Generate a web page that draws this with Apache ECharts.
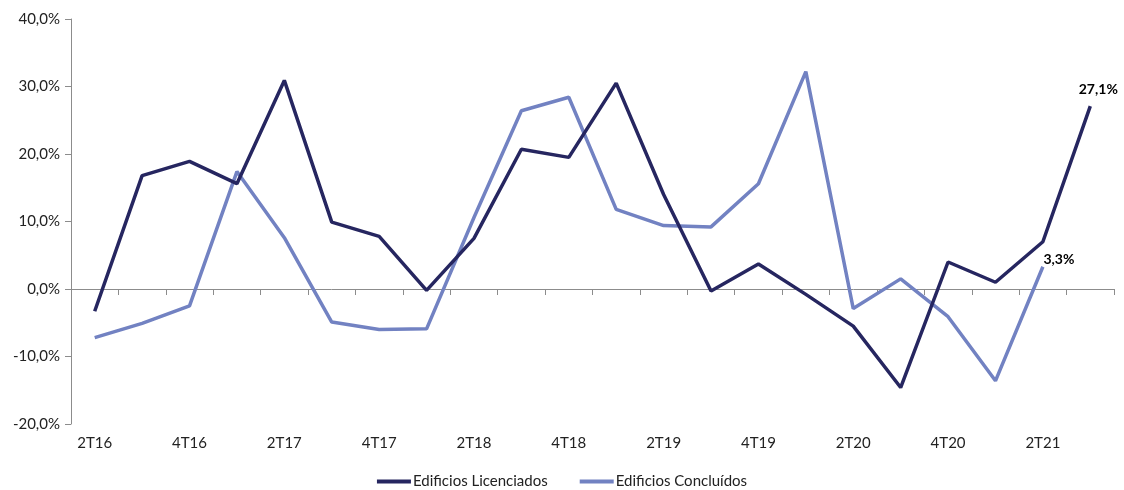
<!DOCTYPE html>
<html>
<head>
<meta charset="utf-8">
<script src="https://cdn.jsdelivr.net/npm/echarts@6/dist/echarts.min.js"></script>
<style>
  html, body { margin: 0; padding: 0; background: #ffffff; }
  #chart { width: 1124px; height: 490px; }
</style>
</head>
<body>
<div id="chart"></div>
<script>
// Quarterly year-on-year change (%) of residential buildings
const quarters = ['2T16','3T16','4T16','1T17','2T17','3T17','4T17','1T18','2T18','3T18','4T18',
                  '1T19','2T19','3T19','4T19','1T20','2T20','3T20','4T20','1T21','2T21','3T21'];
const licenciados = [-3.3, 16.8, 18.9, 15.6, 30.9, 9.9, 7.8, -0.2, 7.5, 20.7, 19.5,
                     30.5, 14.0, -0.3, 3.7, -0.8, -5.5, -14.6, 4.0, 1.0, 7.0, 27.1];
const concluidos = [-7.2, -5.1, -2.5, 17.4, 7.6, -4.9, -6.0, -5.9, 10.6, 26.4, 28.4,
                    11.8, 9.4, 9.2, 15.6, 32.2, -2.9, 1.5, -4.1, -13.6, 3.3, null];
const yTicks = { min: -20, max: 40, step: 10 };

const DARK = '#262660';
const LIGHT = '#7282c2';
const AXIS = '#8c8c8c';
const FONT = 'Lato, "Open Sans", sans-serif';

const fmtPct = v => v.toFixed(1).replace('.', ',') + '%';

// Mark the latest value of each series with a bold label
function withLastLabel(values, offset) {
  let last = -1;
  values.forEach((v, i) => { if (v !== null) last = i; });
  return values.map((v, i) => {
    if (i !== last) return v;
    return {
      value: v,
      label: {
        show: true, position: 'top', offset: offset,
        formatter: p => fmtPct(p.value),
        fontFamily: FONT, fontSize: 14, fontWeight: 'bold', color: '#000'
      }
    };
  });
}

const chart = echarts.init(document.getElementById('chart'), null, { renderer: 'canvas' });
chart.setOption({
  animation: false,
  grid: { left: 71, right: 10, top: 19, bottom: 66 },
  legend: {
    bottom: -4, left: 'center', itemWidth: 34, itemHeight: 4, itemGap: 32,
    icon: 'rect',
    textStyle: { fontFamily: FONT, fontSize: 15, color: '#222', padding: [0, 0, 0, -3] },
    data: ['Edificios Licenciados', 'Edificios Concluídos']
  },
  xAxis: [
    {
      // zero line with tick marks between quarters
      type: 'category', data: quarters, boundaryGap: true,
      axisLine: { onZero: true, lineStyle: { color: AXIS, width: 1 } },
      axisTick: { show: true, length: 6, interval: 0, lineStyle: { color: AXIS } },
      axisLabel: { show: false }
    },
    {
      // quarter labels along the bottom of the plot
      type: 'category', data: quarters, boundaryGap: true, position: 'bottom',
      axisLine: { show: false, onZero: false }, axisTick: { show: false },
      axisLabel: { interval: 1, margin: 12, fontFamily: FONT, fontSize: 15, color: '#222' }
    }
  ],
  yAxis: {
    type: 'value', min: yTicks.min, max: yTicks.max, interval: yTicks.step,
    splitLine: { show: false },
    axisLine: { show: true, lineStyle: { color: AXIS } },
    axisTick: { show: true, length: 6, lineStyle: { color: AXIS } },
    axisLabel: { formatter: v => fmtPct(v), margin: 11, fontFamily: FONT, fontSize: 15, color: '#222' }
  },
  series: [
    {
      name: 'Edificios Licenciados', type: 'line', xAxisIndex: 0,
      data: withLastLabel(licenciados, [8, -5]),
      symbol: 'circle', symbolSize: 0, showSymbol: true,
      lineStyle: { color: DARK, width: 3.5 }, itemStyle: { color: DARK },
      z: 3
    },
    {
      name: 'Edificios Concluídos', type: 'line', xAxisIndex: 0,
      data: withLastLabel(concluidos, [16, 5]),
      symbol: 'circle', symbolSize: 0, showSymbol: true,
      lineStyle: { color: LIGHT, width: 3.5 }, itemStyle: { color: LIGHT },
      z: 2
    }
  ]
});
</script>
</body>
</html>
